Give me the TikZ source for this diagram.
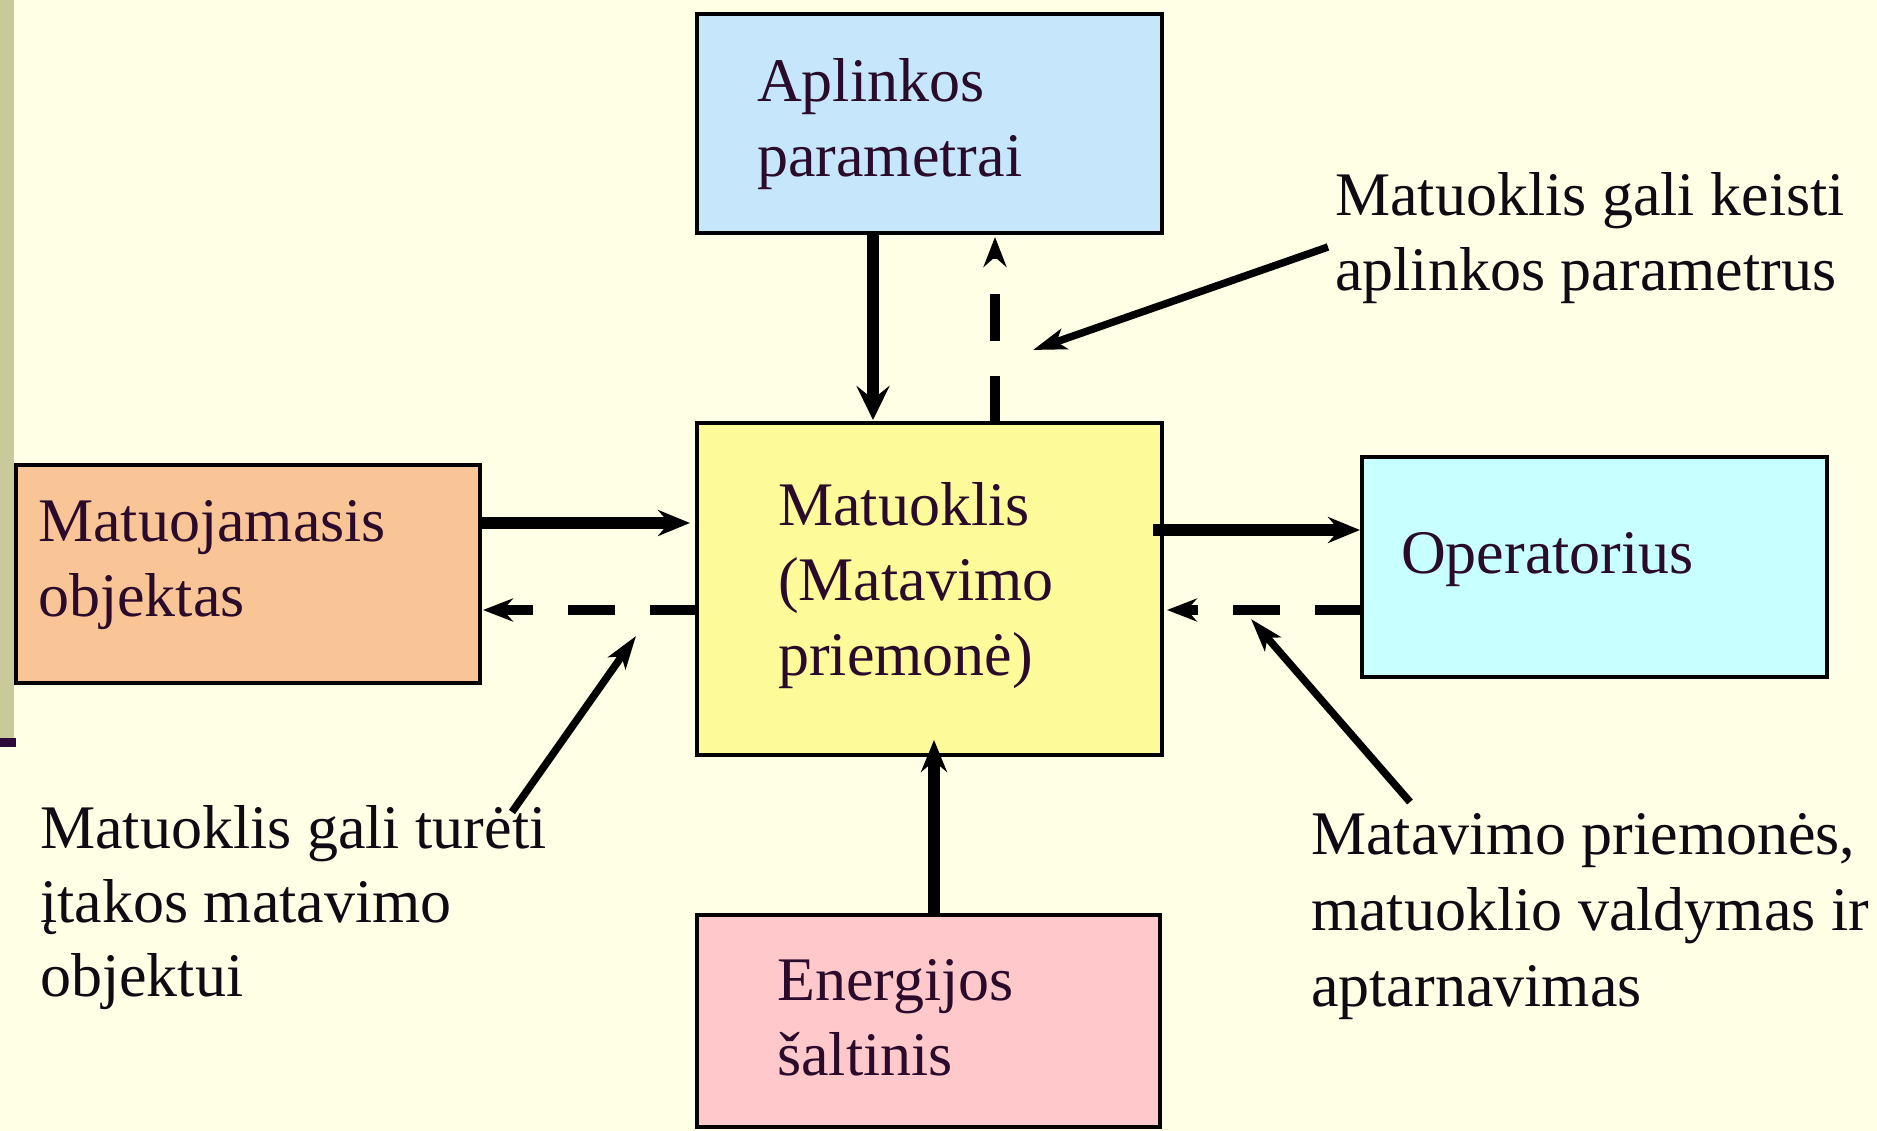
\documentclass[tikz,border=0pt]{standalone}
\usepackage{fontspec}
\setmainfont{Liberation Serif}
\usetikzlibrary{arrows.meta}
\definecolor{bgcream}{RGB}{255,255,230}
\definecolor{barolive}{RGB}{201,201,156}
\definecolor{markpurple}{RGB}{46,10,58}
\definecolor{aplblue}{RGB}{198,230,251}
\definecolor{matyellow}{RGB}{253,250,154}
\definecolor{objorange}{RGB}{250,197,150}
\definecolor{opcyan}{RGB}{200,255,255}
\definecolor{enpink}{RGB}{255,200,203}
\definecolor{boxtext}{RGB}{43,11,43}
\definecolor{notetext}{RGB}{15,10,20}
\begin{document}
\begin{tikzpicture}[x=1pt,y=-1pt,
  blockbox/.style={draw=black,line width=4.5pt,inner sep=0pt,outer sep=0pt,rectangle},
  boxlabel/.style={anchor=base west,align=left,inner sep=0pt,text=boxtext,
    font=\fontsize{62}{75}\selectfont},
  notelabel/.style={anchor=base west,align=left,inner sep=0pt,text=notetext,
    font=\fontsize{62}{75}\selectfont},
  mainflow/.style={line width=11.5pt,-{Stealth[length=32pt,width=26pt,inset=11pt]}},
  backflow/.style={line width=10.5pt,dash pattern=on 47pt off 35pt,
    -{Stealth[length=30pt,width=23pt,inset=10pt]}},
  notearrow/.style={line width=7.5pt,-{Stealth[length=33pt,width=21pt,inset=8pt]}}
]
\useasboundingbox (0,0) rectangle (1877,1131);
\fill[bgcream] (0,0) rectangle (1877,1131);
% left decorative bar
\fill[barolive] (0,0) rectangle (14,738);
\fill[markpurple] (0,738) rectangle (16,747);

% boxes
\node[blockbox,fill=aplblue,minimum width=465pt,minimum height=219pt] (apl) at (929.5,123.5) {};
\node[blockbox,fill=matyellow,minimum width=465pt,minimum height=332pt] (mat) at (929.5,589) {};
\node[blockbox,fill=objorange,minimum width=464pt,minimum height=218pt] (obj) at (248,574) {};
\node[blockbox,fill=opcyan,minimum width=465pt,minimum height=220pt] (op) at (1594.5,567) {};
\node[blockbox,fill=enpink,minimum width=463pt,minimum height=212pt] (en) at (928.5,1021) {};

% box texts (anchor = baseline of the last line)
\node[boxlabel] (aplt) at (757,177) {Aplinkos\\parametrai};
\node[boxlabel] (matt) at (778,675) {Matuoklis\\(Matavimo\\priemonė)};
\node[boxlabel] (objt) at (38,616) {Matuojamasis\\objektas};
\node[boxlabel] (opt) at (1401,573) {Operatorius};
\node[boxlabel] (ent) at (777,1075) {Energijos\\šaltinis};

% annotation texts
\node[notelabel] (n1) at (1335,291) {Matuoklis gali keisti\\aplinkos parametrus};
\node[notelabel,font=\fontsize{62}{74}\selectfont] (n2) at (40,996) {Matuoklis gali turėti\\įtakos matavimo\\objektui};
\node[notelabel,font=\fontsize{62}{76}\selectfont] (n3) at (1311,1006) {Matavimo priemonės,\\matuoklio valdymas ir\\aptarnavimas};

% helper coordinates for connector positions
\coordinate (xa) at (873,0);
\coordinate (xb) at (995,0);
\coordinate (xe) at (934,0);
\coordinate (ya) at (0,523);
\coordinate (yb) at (0,530);
\coordinate (yd) at (0,610);

% main connectors
\draw[mainflow,-{Stealth[length=34pt,width=33pt,inset=13pt]},shorten >=3pt] (apl.south -| xa) -- (mat.north -| xa);
\draw[backflow,shorten >=4pt] (mat.north -| xb) -- (apl.south -| xb);
\draw[mainflow,shorten >=7pt] (obj.east |- ya) -- (mat.west |- ya);
\draw[backflow,shorten >=3pt] (mat.west |- yd) -- (obj.east |- yd);
\draw[mainflow,shorten <=-9pt,shorten >=2pt] (mat.east |- yb) -- (op.west |- yb);
\draw[backflow,shorten >=5pt] (op.west |- yd) -- (mat.east |- yd);
\draw[mainflow,shorten >=-15pt] (en.north -| xe) -- (mat.south -| xe);

% annotation arrows
\coordinate (n1s) at (1328,247);
\coordinate (n1e) at (1033,350);
\coordinate (n2s) at (512,812);
\coordinate (n2e) at (636,636);
\coordinate (n3s) at (1410,802);
\coordinate (n3e) at (1251,619);
\draw[notearrow] (n1s) -- (n1e);
\draw[notearrow] (n2s) -- (n2e);
\draw[notearrow] (n3s) -- (n3e);
\end{tikzpicture}
\end{document}
